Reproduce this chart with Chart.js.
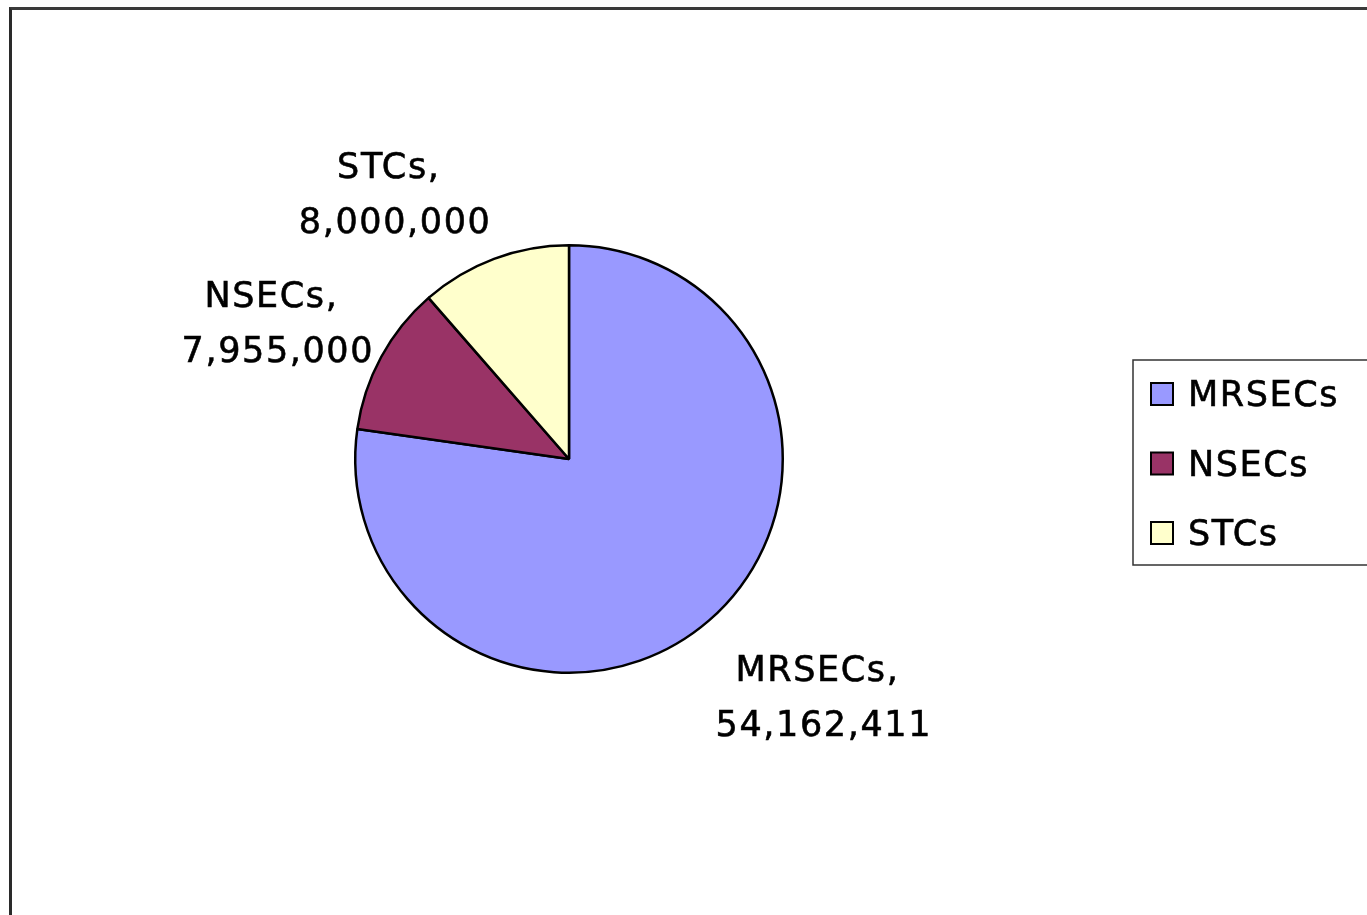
<!DOCTYPE html>
<html>
<head>
<meta charset="utf-8">
<script src="https://cdn.jsdelivr.net/npm/chart.js@4.4.0/dist/chart.umd.min.js"></script>
<style>
  html, body { margin: 0; padding: 0; background: #fff; overflow: hidden; }
  #wrap { position: absolute; left: 0; top: 0; width: 1367px; height: 915px; }
  #frame { position: absolute; left: 9px; top: 7px; width: 1400px; height: 950px;
           border-left: 3px solid #2a2a2a; border-top: 3px solid #3a3a3a; }
  canvas { position: absolute; left: 0; top: 0; }
</style>
</head>
<body>
<div id="wrap">
  <div id="frame"></div>
  <canvas id="c" width="1367" height="915"></canvas>
</div>
<script>
// program names and their funding
const categories = ["MRSECs", "NSECs", "STCs"];
const amounts = [54162411, 7955000, 8000000];
const sliceColors = ["#9999ff", "#993366", "#ffffcc"];

const FONT = "35px 'DejaVu Sans'";
const SPACING = "1.6px";

function fmt(n) {
  return n.toLocaleString("en-US");
}

// text a touch heavier, like the original's rendering
function heavyText(ctx, s, x, y) {
  ctx.fillText(s, x, y);
  ctx.strokeText(s, x, y);
}

// "Name," / "value" labels outside the slices; the box corner nearest the pie sits
// just outside the rim on the slice's mid angle, then a small best-fit nudge
const outsideLabels = {
  id: "outsideLabels",
  afterDatasetsDraw(chart, args, opts) {
    const ctx = chart.ctx;
    const meta = chart.getDatasetMeta(0);
    const nudge = opts.nudge || [];
    ctx.save();
    ctx.font = FONT;
    ctx.letterSpacing = SPACING;
    ctx.fillStyle = "#000";
    ctx.strokeStyle = "#000";
    ctx.lineWidth = 0.6;
    ctx.textBaseline = "alphabetic";
    ctx.textAlign = "center";
    const cap = 26, lh = 55;
    meta.data.forEach((arc, i) => {
      const p = arc.getProps(["x", "y", "startAngle", "endAngle", "outerRadius"], true);
      const mid = (p.startAngle + p.endAngle) / 2;
      const r = p.outerRadius + 16;
      const ax = p.x + Math.cos(mid) * r;
      const ay = p.y + Math.sin(mid) * r;
      const lines = [categories[i] + ", ", fmt(chart.data.datasets[0].data[i])];
      const w = Math.max(...lines.map(s => ctx.measureText(s).width));
      const h = cap + lh;
      const n = nudge[i] || [0, 0];
      const left = (Math.cos(mid) >= 0 ? ax : ax - w) + n[0];
      const top = (Math.sin(mid) >= 0 ? ay : ay - h) + n[1];
      lines.forEach((s, k) => {
        heavyText(ctx, s, left + w / 2, top + cap + k * lh);
      });
    });
    ctx.restore();
  }
};

// boxed legend on the right, cut off by the page edge like the original
const boxLegend = {
  id: "boxLegend",
  afterDraw(chart) {
    const ctx = chart.ctx;
    const ds = chart.data.datasets[0];
    const bx = 1133, by = 360, bw = 260, bh = 205;
    ctx.save();
    ctx.strokeStyle = "#333";
    ctx.lineWidth = 1.5;
    ctx.strokeRect(bx, by, bw, bh);
    ctx.font = FONT;
    ctx.letterSpacing = SPACING;
    ctx.textBaseline = "alphabetic";
    ctx.textAlign = "left";
    chart.data.labels.forEach((lab, i) => {
      const cy = 394 + i * 69.5;
      ctx.fillStyle = ds.backgroundColor[i];
      ctx.fillRect(bx + 18, cy - 11, 22, 22);
      ctx.strokeStyle = "#000";
      ctx.lineWidth = 2;
      ctx.strokeRect(bx + 18, cy - 11, 22, 22);
      ctx.fillStyle = "#000";
      ctx.lineWidth = 0.6;
      heavyText(ctx, lab, bx + 55, cy + 12);
    });
    ctx.restore();
  }
};

new Chart(document.getElementById("c"), {
  type: "pie",
  data: {
    labels: categories,
    datasets: [{
      data: amounts,
      backgroundColor: sliceColors,
      borderColor: "#000",
      borderWidth: 2.5
    }]
  },
  options: {
    responsive: false,
    animation: false,
    layout: { padding: { left: 354, right: 583, top: 244, bottom: 241 } },
    plugins: {
      legend: { display: false },
      tooltip: { enabled: false },
      outsideLabels: { nudge: [[-4, 22], [7, 13], [3, -11]] }
    }
  },
  plugins: [outsideLabels, boxLegend]
});
</script>
</body>
</html>
